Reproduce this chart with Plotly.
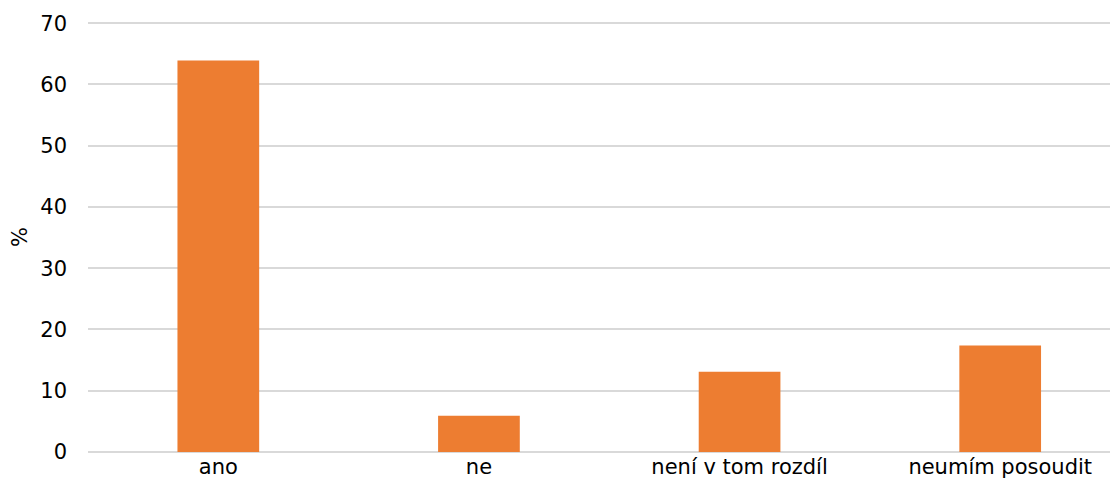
import plotly.graph_objects as go

categories = ["ano", "ne", "není v tom rozdíl", "neumím posoudit"]
values = [63.9, 5.9, 13.1, 17.4]
y_ticks = [0, 10, 20, 30, 40, 50, 60, 70]

fig = go.Figure(
    go.Bar(
        x=categories,
        y=values,
        marker=dict(color="#ED7D31", line=dict(width=0)),
        width=0.3135,
        hoverinfo="skip",
    )
)

font = dict(family="DejaVu Sans, Verdana, sans-serif", size=21, color="#000000")

fig.update_layout(
    width=1110,
    height=475,
    margin=dict(l=80, r=0, t=14.3, b=30.5, autoexpand=False),
    paper_bgcolor="white",
    plot_bgcolor="white",
    showlegend=False,
    font=font,
    xaxis=dict(
        type="category",
        range=[-0.5, 3.452],
        showgrid=False,
        showline=False,
        zeroline=False,
        ticks="",
        tickfont=font,
        fixedrange=True,
    ),
    yaxis=dict(
        range=[0, 70.2],
        tickvals=y_ticks,
        showgrid=True,
        gridcolor="#D9D9D9",
        gridwidth=1.5,
        zeroline=True,
        zerolinecolor="#D9D9D9",
        zerolinewidth=1.5,
        showline=False,
        ticks="",
        ticklabelstandoff=20,
        tickfont=font,
        title=dict(text="%", font=font, standoff=22),
        fixedrange=True,
    ),
)

fig.write_html("out.html")
